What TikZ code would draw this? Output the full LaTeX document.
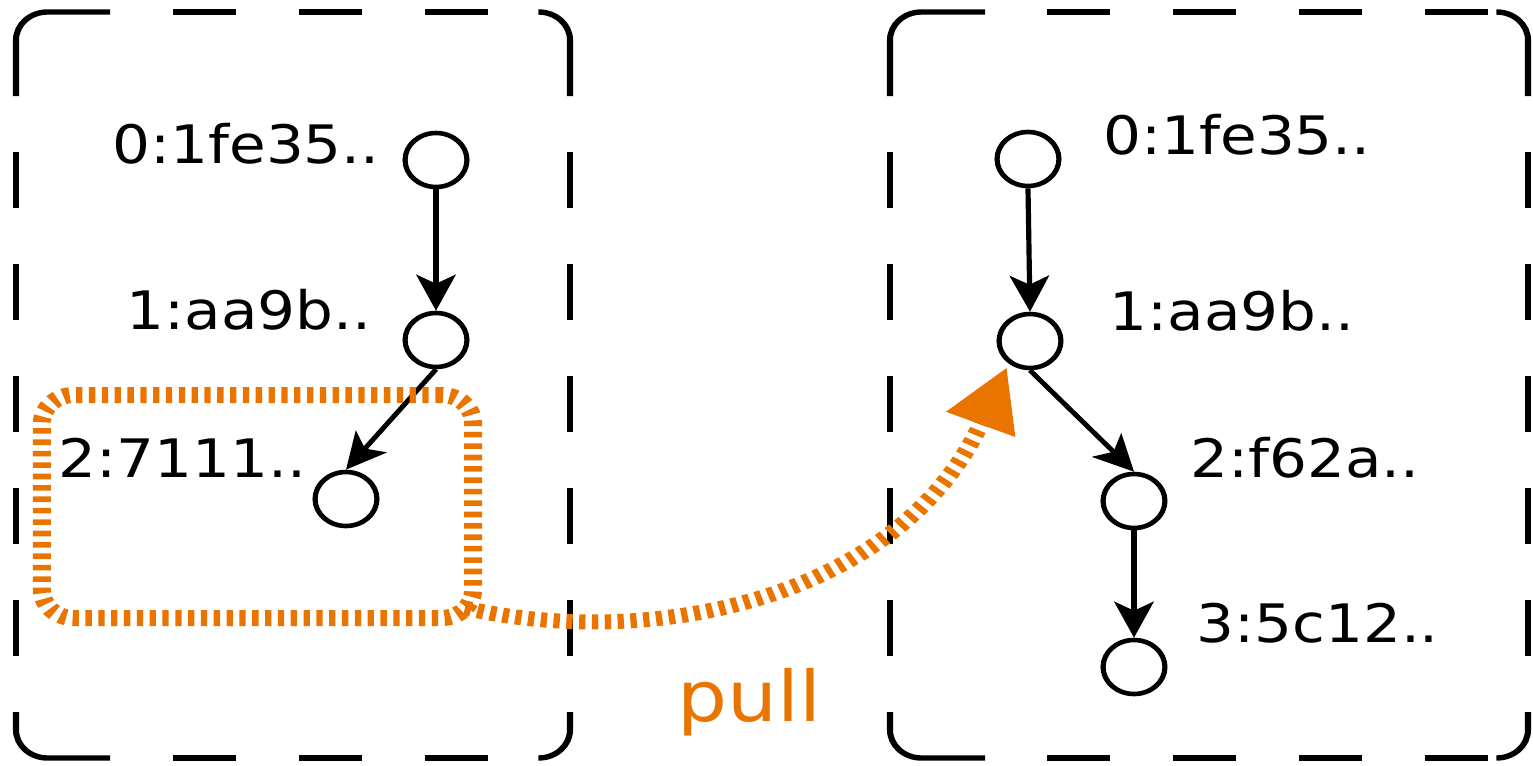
\documentclass[tikz,border=0pt]{standalone}
\usepackage{fontspec}
\setmainfont{DejaVu Sans}
\usetikzlibrary{arrows.meta,shapes.geometric}
\definecolor{pullorange}{RGB}{234,116,0}
\tikzset{
  boxline/.style={line width=2.7pt, line cap=butt, rounded corners=14pt},
  commit/.style={ellipse, draw, line width=2.3pt, minimum width=27.5pt, minimum height=27pt, inner sep=0pt},
  hashlabel/.style={anchor=base west, inner sep=0pt, font=\fontsize{26.5pt}{30pt}\selectfont},
  commitedge/.style={line width=2.3pt, -{Stealth[length=18pt,width=17.5pt,inset=4.5pt]}},
  selbox/.style={draw=pullorange, line width=8pt, dash pattern=on 2.8pt off 2.9pt, rounded corners=14pt, inner sep=0pt},
  pullarrow/.style={color=pullorange, line width=7.5pt, dash pattern=on 2.8pt off 2.9pt, -{Triangle[length=31pt,width=31pt]}},
}
\begin{document}
\begin{tikzpicture}[x=0.5pt,y=-0.5pt]
\useasboundingbox (0,0) rectangle (1533,766);
\begin{scope}[transform canvas={xscale=1.125}, x=0.444444pt, y=-0.5pt]
  % ---- dashed repository boxes ----
  % corners
  \draw[boxline] (16,96) -- (16,12) -- (110,12);
  \draw[boxline] (539,12) -- (570,12) -- (570,96);
  \draw[boxline] (16,712) -- (16,758) -- (110,758);
  \draw[boxline] (539,758) -- (570,758) -- (570,712);
  \draw[boxline] (890,96) -- (890,12) -- (985,12);
  \draw[boxline] (1498,12) -- (1528,12) -- (1528,96);
  \draw[boxline] (890,712) -- (890,758) -- (985,758);
  \draw[boxline] (1498,758) -- (1528,758) -- (1528,712);
  % horizontal dashes
  \foreach \a/\b in {173/236,299/362,425/488,1047/1110,1173/1236,1299/1362,1425/1488} {
    \draw[boxline] (\a,12) -- (\b,12);
    \draw[boxline] (\a,758) -- (\b,758);
  }
  % vertical dashes
  \foreach \a/\b in {152/208,264/320,376/432,488/544,600/656} {
    \draw[boxline] (16,\a) -- (16,\b);
    \draw[boxline] (570,\a) -- (570,\b);
    \draw[boxline] (890,\a) -- (890,\b);
    \draw[boxline] (1528,\a) -- (1528,\b);
  }

  % ---- left repository ----
  \node[commit] (n0) at (436,160) {};
  \node[commit] (n1) at (436,340) {};
  \node[commit] (n2) at (346,499) {};
  \node[hashlabel] (l0) at (112,163) {0:1fe35..};
  \node[hashlabel] (l1) at (126,329) {1:aa9b..};
  \node[hashlabel] (l2) at (58,477) {2:7111..};
  \draw[commitedge] (n0.south) -- (n1.north);
  \draw[commitedge] (n1.south) -- (n2.north);

  % ---- right repository ----
  \node[commit] (r0) at (1028,159) {};
  \node[commit] (r1) at (1030,341) {};
  \node[commit] (r2) at (1134,501) {};
  \node[commit] (r3) at (1134,667) {};
  \node[hashlabel] (k0) at (1103,154) {0:1fe35..};
  \node[hashlabel] (k1) at (1109,330) {1:aa9b..};
  \node[hashlabel] (k2) at (1190,477) {2:f62a..};
  \node[hashlabel] (k3) at (1196,642) {3:5c12..};
  \draw[commitedge] (r0.south) -- (r1.north);
  \draw[commitedge] (r1.south) -- (r2.north);
  \draw[commitedge] (r2.south) -- (r3.north);

  % ---- pull ----
  \node[selbox, minimum width=191.6pt, minimum height=111.5pt] (sel) at (257.5,506.5) {};
  \coordinate (pullstart) at (465,608);
  \coordinate (pullend) at (1007,367);
  \draw[pullarrow] (pullstart) .. controls (650,650) and (900,600) .. (pullend);
  \node[anchor=base west, inner sep=0pt, text=pullorange, font=\fontsize{35pt}{40pt}\selectfont] (pull) at (677,721) {pull};
\end{scope}
\end{tikzpicture}
\end{document}
